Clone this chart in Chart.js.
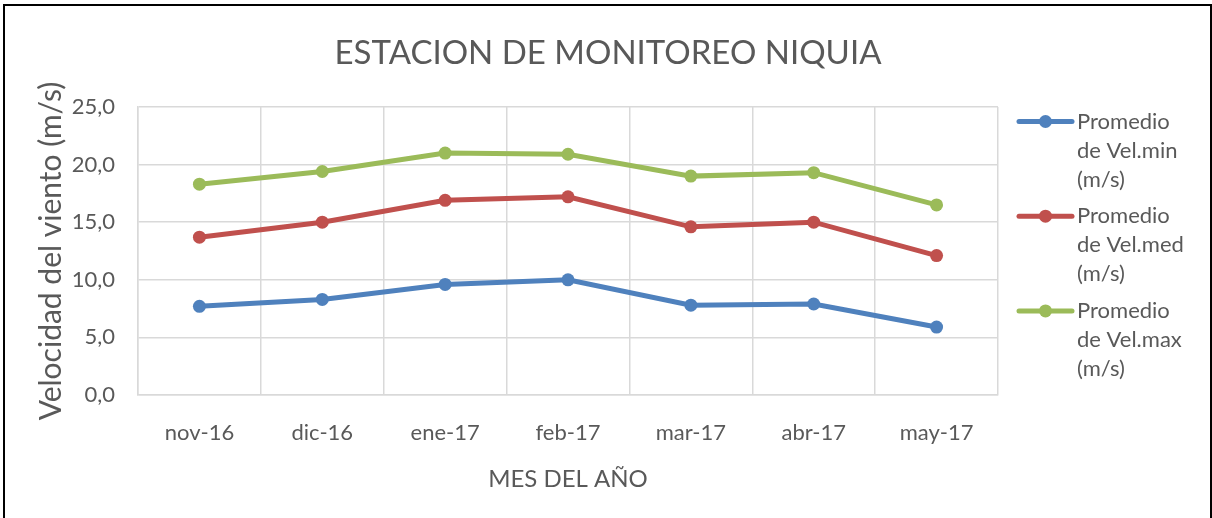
<!DOCTYPE html>
<html>
<head>
<meta charset="utf-8">
<script src="https://cdn.jsdelivr.net/npm/chart.js@4.4.0/dist/chart.umd.min.js"></script>
<style>
  html, body { margin: 0; padding: 0; background: #fff; }
  #wrap { position: relative; width: 1212px; height: 518px; }
</style>
</head>
<body>
<div id="wrap"><canvas id="windChart"></canvas></div>
<script>
// ===== DATA =====
const months = ["nov-16", "dic-16", "ene-17", "feb-17", "mar-17", "abr-17", "may-17"];
const velMin = [7.7, 8.3, 9.6, 10.0, 7.8, 7.9, 5.9];
const velMed = [13.7, 15.0, 16.9, 17.2, 14.6, 15.0, 12.1];
const velMax = [18.3, 19.4, 21.0, 20.9, 19.0, 19.3, 16.5];
const legendLines = [
  ["Promedio", "de Vel.min", "(m/s)"],
  ["Promedio", "de Vel.med", "(m/s)"],
  ["Promedio", "de Vel.max", "(m/s)"]
];

const FONT = 'Lato, "Open Sans", sans-serif';
const TEXT = "#595959";
const GRID = "#d9d9d9";

// ===== PLUGINS =====
const frame = {
  id: "frame",
  beforeDraw(chart) {
    const ctx = chart.ctx;
    ctx.save();
    ctx.fillStyle = "#fff";
    ctx.fillRect(0, 0, chart.width, chart.height);
    ctx.strokeStyle = "#000";
    ctx.lineWidth = 2;
    ctx.strokeRect(4, 5, 1207, 600);
    ctx.restore();
  }
};

// legend on the right, text wrapped on three lines like the original
const sideLegend = {
  id: "sideLegend",
  afterDraw(chart) {
    const ctx = chart.ctx;
    ctx.save();
    chart.data.datasets.forEach((ds, i) => {
      const y = 121.5 + i * 94.7;
      ctx.strokeStyle = ds.borderColor;
      ctx.lineWidth = 5;
      ctx.lineCap = "round";
      ctx.beginPath();
      ctx.moveTo(1019, y);
      ctx.lineTo(1072, y);
      ctx.stroke();
      ctx.fillStyle = ds.borderColor;
      ctx.beginPath();
      ctx.arc(1045.5, y, 6.5, 0, Math.PI * 2);
      ctx.fill();
      ctx.fillStyle = TEXT;
      ctx.font = "22px " + FONT;
      ctx.textBaseline = "middle";
      ctx.textAlign = "left";
      legendLines[i].forEach((t, k) => ctx.fillText(t, 1077, y + k * 29));
    });
    ctx.restore();
  }
};

// ===== CHART =====
function series(label, data, color) {
  return {
    label: label.join(" "),
    data: data,
    borderColor: color,
    backgroundColor: color,
    pointBackgroundColor: color,
    borderWidth: 5,
    pointRadius: 6.5,
    pointBorderWidth: 0,
    tension: 0,
    clip: false
  };
}

new Chart(document.getElementById("windChart"), {
  type: "line",
  data: {
    labels: months,
    datasets: [
      series(legendLines[0], velMin, "#4f81bd"),
      series(legendLines[1], velMed, "#c0504d"),
      series(legendLines[2], velMax, "#9bbb59")
    ]
  },
  options: {
    responsive: true,
    maintainAspectRatio: false,
    animation: false,
    devicePixelRatio: 1,
    layout: { padding: { left: 4, right: 0, top: 0, bottom: 0 } },
    plugins: {
      legend: { display: false },
      tooltip: { enabled: false },
      title: {
        display: true,
        text: "ESTACION DE MONITOREO NIQUIA",
        color: TEXT,
        font: { family: FONT, size: 33, weight: "normal" },
        padding: { top: 34, bottom: 33.4 }
      }
    },
    scales: {
      x: {
        offset: true,
        grid: { offset: true, color: GRID, lineWidth: 1.5, drawTicks: false },
        border: { color: GRID, width: 1.5 },
        ticks: { color: TEXT, font: { family: FONT, size: 22 }, padding: 25, maxRotation: 0 },
        title: {
          display: true,
          text: "MES DEL AÑO",
          color: TEXT,
          font: { family: FONT, size: 24 },
          padding: { top: 0, bottom: 24 }
        },
        afterFit(scale) { scale.height = 123; }
      },
      y: {
        min: 0,
        max: 25,
        grid: { color: GRID, lineWidth: 1.5, drawTicks: false },
        border: { color: GRID, width: 1.5 },
        ticks: {
          stepSize: 5,
          color: TEXT,
          font: { family: FONT, size: 22 },
          padding: 23,
          callback: (v) => v.toFixed(1).replace(".", ",")
        },
        title: {
          display: true,
          text: "Velocidad del viento (m/s)",
          color: TEXT,
          font: { family: FONT, size: 30 },
          padding: { top: 29, bottom: 0 }
        },
        afterFit(scale) { scale.width = 134; }
      },
      // empty right-hand strip that leaves room for the legend
      legendSpace: {
        position: "right",
        min: 0,
        max: 25,
        grid: { display: false },
        border: { display: false },
        ticks: { display: false },
        afterFit(scale) { scale.width = 214; }
      }
    }
  },
  plugins: [frame, sideLegend]
});
</script>
</body>
</html>
